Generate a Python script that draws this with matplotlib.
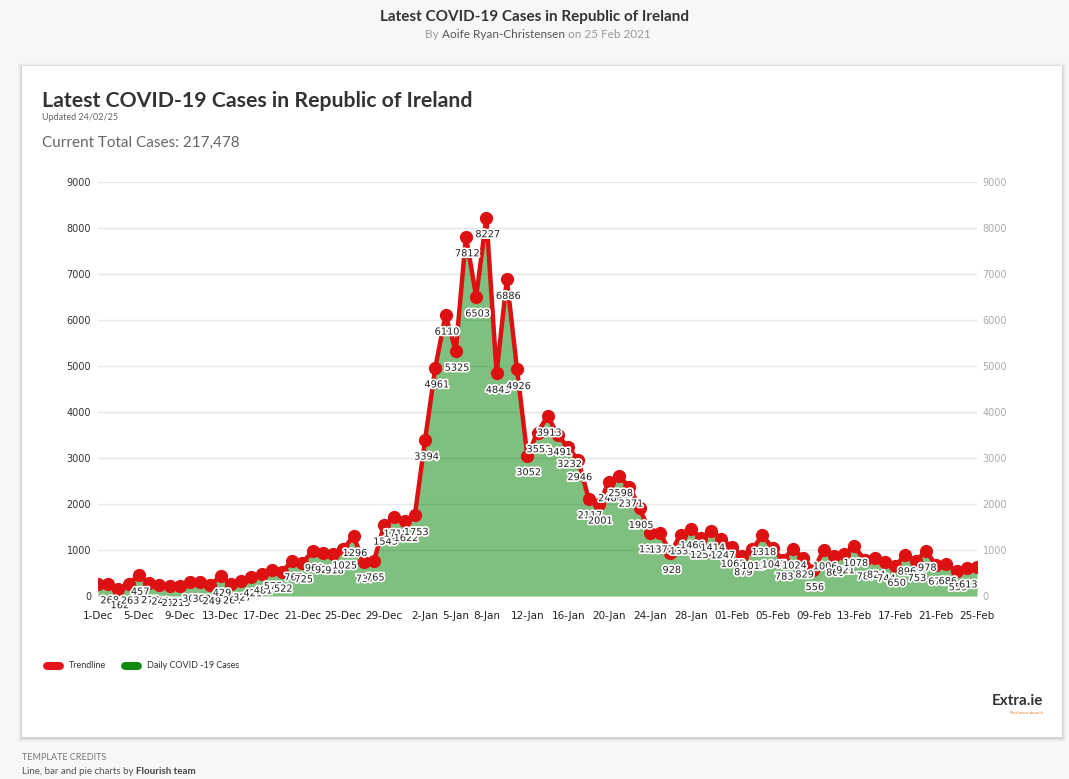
import numpy as np
import pandas as pd
import matplotlib.pyplot as plt
import matplotlib.patheffects as pe
from matplotlib.patches import Rectangle, FancyBboxPatch

# Daily cases, 1 Dec 2020 to 25 Feb 2021
dec_cases = [255, 268, 162, 263, 457, 272, 242, 212, 213, 303, 300, 249, 429, 264, 327, 421,
             481, 575, 522, 767, 725, 969, 929, 918, 1025, 1296, 737, 765, 1545, 1718, 1622]
jan_cases = [1753, 3394, 4961, 6110, 5325, 7812, 6503, 8227, 4843, 6886, 4926, 3052, 3553, 3913,
             3491, 3232, 2946, 2117, 2001, 2488, 2598, 2371, 1905, 1378, 1372, 928, 1335, 1466,
             1254, 1414, 1247]
feb_cases = [1062, 879, 1013, 1318, 1047, 783, 1024, 829, 556, 1006, 869, 921, 1078, 787, 824,
             744, 650, 896, 753, 978, 676, 686, 553, 613, 630]
cases = dec_cases + jan_cases + feb_cases
dates = pd.date_range('2020-12-01', '2021-02-25')

tick_dates = ['2020-12-01', '2020-12-05', '2020-12-09', '2020-12-13', '2020-12-17', '2020-12-21',
              '2020-12-25', '2020-12-29', '2021-01-02', '2021-01-05', '2021-01-08', '2021-01-12',
              '2021-01-16', '2021-01-20', '2021-01-24', '2021-01-28', '2021-02-01', '2021-02-05',
              '2021-02-09', '2021-02-13', '2021-02-17', '2021-02-21', '2021-02-25']
tick_labels = ['1-Dec', '5-Dec', '9-Dec', '13-Dec', '17-Dec', '21-Dec', '25-Dec', '29-Dec',
               '2-Jan', '5-Jan', '8-Jan', '12-Jan', '16-Jan', '20-Jan', '24-Jan', '28-Jan',
               '01-Feb', '05-Feb', '09-Feb', '13-Feb', '17-Feb', '21-Feb', '25-Feb']
y_ticks = [0, 1000, 2000, 3000, 4000, 5000, 6000, 7000, 8000, 9000]

W, H = 1069, 779
plt.rcParams['font.family'] = ['Lato', 'DejaVu Sans']

fig = plt.figure(figsize=(W / 100, H / 100), dpi=100)
fig.patch.set_facecolor('#f7f7f7')


def fx(x):
    return x / W


def fy(y):
    return 1 - y / H


# card with soft shadow
for i, a in enumerate([0.05, 0.04, 0.03, 0.02]):
    d = i + 1
    fig.patches.append(Rectangle((fx(22 - d), fy(737 + d + 1)), (1040 + 2 * d) / W, (671 + 2 * d) / H,
                                 transform=fig.transFigure, facecolor='black', alpha=a,
                                 edgecolor='none', zorder=0))
fig.patches.append(Rectangle((fx(22), fy(737)), 1040 / W, 671 / H, transform=fig.transFigure,
                             facecolor='white', edgecolor='none', zorder=1))

# overlay axes for chained header / footer text
bg = fig.add_axes([0, 0, 1, 1])
bg.set_xlim(0, 1)
bg.set_ylim(0, 1)
bg.axis('off')
bg.patch.set_alpha(0)

# page header
fig.text(0.5, fy(17), 'Latest COVID-19 Cases in Republic of Ireland', ha='center', va='center',
         fontsize=11, fontweight='bold', color='#333333')
t1 = bg.text(fx(425), fy(35), 'By ', ha='left', va='center', fontsize=8.5, color='#999999')
t2 = bg.annotate('Aoife Ryan-Christensen', xy=(1, 0.5), xycoords=t1, va='center', ha='left',
                 fontsize=8.5, color='#555555')
bg.annotate(' on 25 Feb 2021', xy=(1, 0.5), xycoords=t2, va='center', ha='left',
            fontsize=8.5, color='#999999')

# card titles
fig.text(fx(42), fy(101), 'Latest COVID-19 Cases in Republic of Ireland', ha='left', va='center',
         fontsize=15.3, fontweight='bold', color='#333333')
fig.text(fx(42), fy(118), 'Updated 24/02/25', ha='left', va='center', fontsize=6.5, color='#666666')
fig.text(fx(42), fy(143), 'Current Total Cases: 217,478', ha='left', va='center', fontsize=11,
         color='#666666')

# chart
ax = fig.add_axes([fx(98), fy(596), 879 / W, 414 / H])
ax.set_facecolor('none')
ax.set_zorder(3)
x = np.arange(len(cases))
ax.fill_between(x, cases, 0, color='green', alpha=0.5, linewidth=0, zorder=2)
ax.plot(x, cases, color='#dd1111', linewidth=3.2, marker='o', markersize=8.5, zorder=3,
        solid_joinstyle='round')

for i, v in enumerate(cases):
    if i == 0 or i == len(cases) - 1:
        continue
    ax.annotate(str(v), (x[i], v), xytext=(1, -12), textcoords='offset points', ha='center',
                va='center', fontsize=7, family='DejaVu Sans', color='#222222', zorder=4,
                path_effects=[pe.withStroke(linewidth=2.5, foreground='white')])

ax.set_xlim(0, len(cases) - 1)
ax.set_ylim(0, 9000)
tick_pos = [dates.get_loc(pd.Timestamp(d)) for d in tick_dates]
ax.set_xticks(tick_pos)
ax.set_xticklabels(tick_labels, fontsize=7.5, family='DejaVu Sans', color='#222222')
ax.set_yticks(y_ticks)
ax.set_yticklabels([str(t) for t in y_ticks], fontsize=7, family='DejaVu Sans', color='#333333')
ax.tick_params(axis='both', length=0)
ax.tick_params(axis='x', pad=11)
ax.tick_params(axis='y', pad=5)
ax.grid(axis='y', color='#e8e8e8', linewidth=1, zorder=0)
ax.set_axisbelow(True)
for s in ax.spines.values():
    s.set_visible(False)

ax2 = ax.twinx()
ax2.set_ylim(0, 9000)
ax2.set_yticks(y_ticks)
ax2.set_yticklabels([str(t) for t in y_ticks], fontsize=7, family='DejaVu Sans', color='#aaaaaa')
ax2.tick_params(axis='y', length=0, pad=4)
for s in ax2.spines.values():
    s.set_visible(False)

# legend
for x0, col, lab in [(43, '#e8121b', 'Trendline'), (121, '#118811', 'Daily COVID -19 Cases')]:
    fig.patches.append(FancyBboxPatch((fx(x0), fy(670)), 21 / W, 8 / H,
                                      boxstyle='round,pad=0,rounding_size=0.0045',
                                      transform=fig.transFigure, facecolor=col, edgecolor='none',
                                      zorder=2, mutation_aspect=W / H))
    fig.text(fx(x0 + 26), fy(666), lab, ha='left', va='center', fontsize=6.5, color='#333333')

# logo
fig.text(fx(1043), fy(701), 'Extra.ie', ha='right', va='center', fontsize=11, fontweight='bold',
         color='#333333')
fig.text(fx(1043), fy(713), 'Find more about it', ha='right', va='center', fontsize=3,
         color='#e8781b')

# footer
fig.text(fx(22), fy(757), 'TEMPLATE CREDITS', ha='left', va='center', fontsize=6.5, color='#777777')
f1 = bg.text(fx(22), fy(771), 'Line, bar and pie charts by ', ha='left', va='center', fontsize=7,
             color='#555555')
bg.annotate('Flourish team', xy=(1, 0.5), xycoords=f1, ha='left', va='center', fontsize=7,
            fontweight='bold', color='#444444')

fig.savefig('out.png', dpi=100, facecolor=fig.get_facecolor())
